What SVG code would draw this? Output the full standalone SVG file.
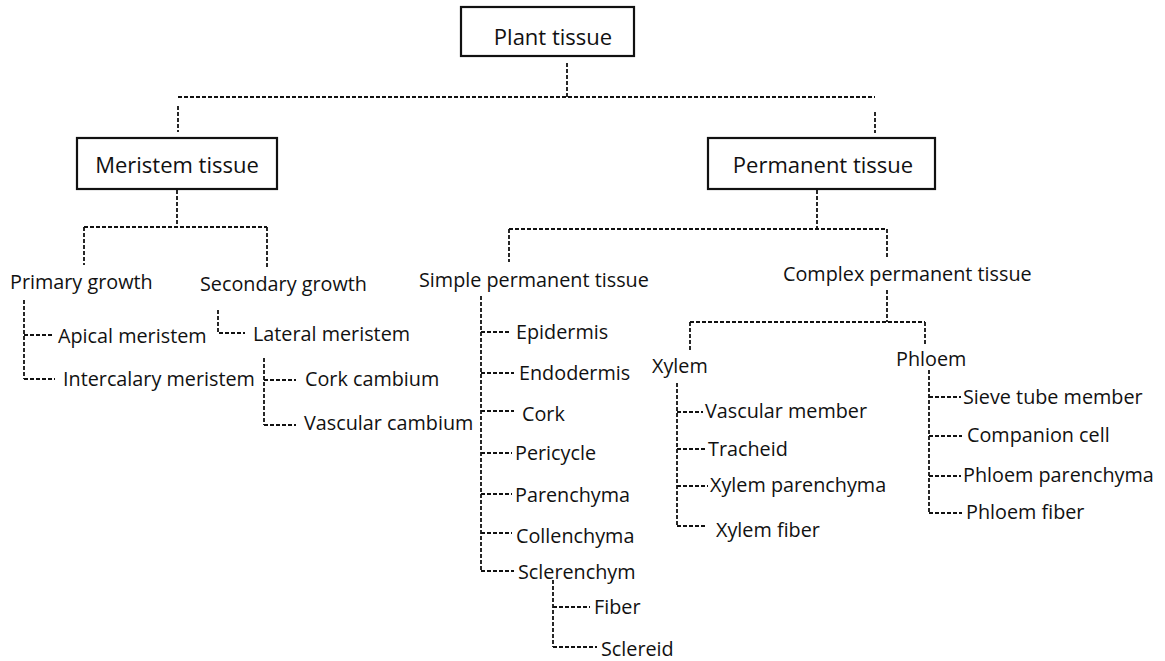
<svg xmlns="http://www.w3.org/2000/svg" width="1165" height="661" viewBox="0 0 1165 661">
<style>
text{font-family:"Open Sans","Noto Sans",sans-serif;font-size:19.8px;fill:#111}
.box{fill:#fff;stroke:#111;stroke-width:2.2}
.bt{font-size:22px;text-anchor:middle}
.c{fill:none;stroke:#111;stroke-width:1.8;stroke-dasharray:4 2}
</style>
<rect width="1165" height="661" fill="#fff"/>
<g id="connectors">
<path class="c" d="M567 63V97M178 97H875M178 106V132M875 112V133"/>
<path class="c" d="M177 190V227M84 227H267M84 227V265M267 227V268"/>
<path class="c" d="M24 300V379M24 335H52M24 379H55"/>
<path class="c" d="M218 310V333H245"/>
<path class="c" d="M264 358V425M264 380H296M264 425H296"/>
<path class="c" d="M817 190V229M509 229H887M509 229V262M887 229V258"/>
<path class="c" d="M481 296V571M481 332H511M481 373H514M481 411H514M481 453H512M481 494H512M481 533H512M481 571H514"/>
<path class="c" d="M553 580V647M553 607H590M553 647H597"/>
<path class="c" d="M887 290V322M690 322H925M690 322V350M925 322V345"/>
<path class="c" d="M677 383V526M677 412H703M677 449H706M677 486H708M677 526H706"/>
<path class="c" d="M929 370V513M929 397H961M929 436H962M929 476H961M929 513H962"/>
</g>
<g id="plant-tissue"><rect class="box" x="461" y="7" width="173" height="49"/><text class="bt" x="553" y="45">Plant tissue</text></g>
<g id="meristem-tissue"><rect class="box" x="77" y="138" width="200" height="51"/><text class="bt" x="177" y="173">Meristem tissue</text></g>
<g id="permanent-tissue"><rect class="box" x="708" y="138" width="227" height="51"/><text class="bt" x="823" y="173">Permanent tissue</text></g>
<g id="primary-growth"><text x="10" y="289">Primary growth</text></g>
<g id="secondary-growth"><text x="200" y="291">Secondary growth</text></g>
<g id="apical-meristem"><text x="58" y="343">Apical meristem</text></g>
<g id="intercalary-meristem"><text x="63" y="386">Intercalary meristem</text></g>
<g id="lateral-meristem"><text x="253" y="341">Lateral meristem</text></g>
<g id="cork-cambium"><text x="305" y="386">Cork cambium</text></g>
<g id="vascular-cambium"><text x="304" y="430">Vascular cambium</text></g>
<g id="simple-permanent-tissue"><text x="419" y="287">Simple permanent tissue</text></g>
<g id="complex-permanent-tissue"><text x="783" y="281">Complex permanent tissue</text></g>
<g id="epidermis"><text x="516" y="339">Epidermis</text></g>
<g id="endodermis"><text x="519" y="380">Endodermis</text></g>
<g id="cork"><text x="522" y="421">Cork</text></g>
<g id="pericycle"><text x="515" y="460">Pericycle</text></g>
<g id="parenchyma"><text x="515" y="502">Parenchyma</text></g>
<g id="collenchyma"><text x="516" y="543">Collenchyma</text></g>
<g id="sclerenchym"><text x="518" y="579">Sclerenchym</text></g>
<g id="fiber"><text x="594" y="614">Fiber</text></g>
<g id="sclereid"><text x="601" y="656">Sclereid</text></g>
<g id="xylem"><text x="652" y="373">Xylem</text></g>
<g id="phloem"><text x="896" y="366">Phloem</text></g>
<g id="vascular-member"><text x="705" y="418">Vascular member</text></g>
<g id="tracheid"><text x="708" y="456">Tracheid</text></g>
<g id="xylem-parenchyma"><text x="710" y="492">Xylem parenchyma</text></g>
<g id="xylem-fiber"><text x="716" y="537">Xylem fiber</text></g>
<g id="sieve-tube-member"><text x="963" y="404">Sieve tube member</text></g>
<g id="companion-cell"><text x="967" y="442">Companion cell</text></g>
<g id="phloem-parenchyma"><text x="963" y="482">Phloem parenchyma</text></g>
<g id="phloem-fiber"><text x="966" y="519">Phloem fiber</text></g>
</svg>
